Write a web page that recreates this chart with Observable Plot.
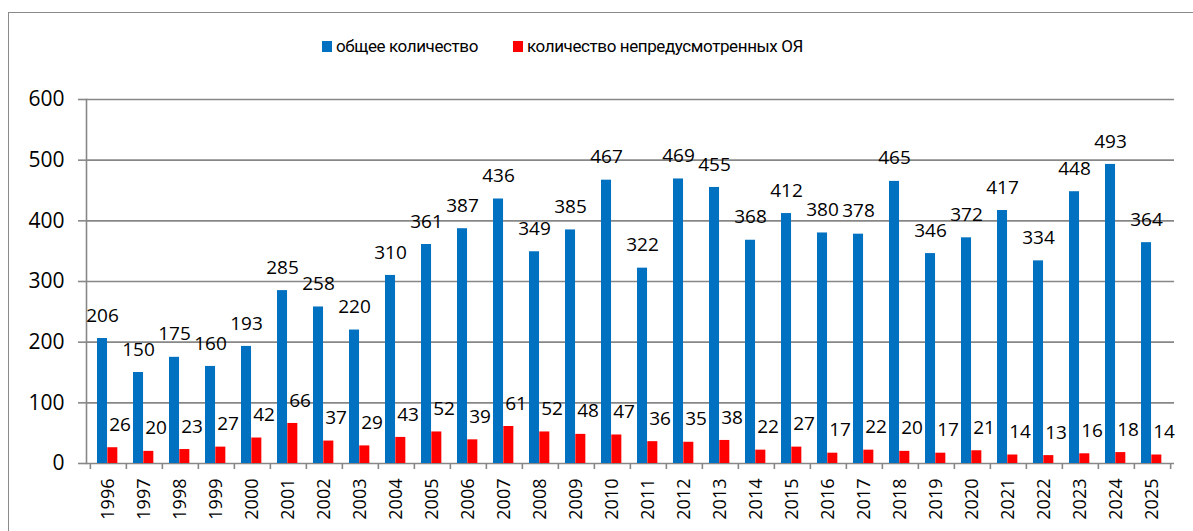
<!DOCTYPE html>
<html>
<head>
<meta charset="utf-8">
<script src="https://cdn.jsdelivr.net/npm/d3@7"></script>
<script src="https://cdn.jsdelivr.net/npm/@observablehq/plot@0.6"></script>
<style>
  html, body { margin: 0; padding: 0; background: #fff; overflow: hidden; }
  #wrap { position: relative; width: 1193px; height: 531px; font-family: "Open Sans", sans-serif; }
  #border { position: absolute; left: 8px; top: 12px; width: 1300px; height: 700px; border: 1.5px solid #8a8a8a; box-sizing: border-box; }
  #chart { position: absolute; left: 0; top: 0; }
  .lg { position: absolute; top: 36px; display: flex; align-items: center; font-family: Roboto, sans-serif; font-size: 17px; letter-spacing: -0.4px; color: #000; white-space: nowrap; }
  .sw { width: 10px; height: 11px; margin-right: 4px; }
</style>
</head>
<body>
<div id="wrap">
  <div id="border"></div>
  <div id="chart"></div>
  <div class="lg" id="lg1"></div>
  <div class="lg" id="lg2"></div>
</div>
<script>
const years = ["1996","1997","1998","1999","2000","2001","2002","2003","2004","2005","2006","2007","2008","2009","2010","2011","2012","2013","2014","2015","2016","2017","2018","2019","2020","2021","2022","2023","2024","2025"];
const totalCount = [206,150,175,160,193,285,258,220,310,361,387,436,349,385,467,322,469,455,368,412,380,378,465,346,372,417,334,448,493,364];
const unexpectedCount = [26,20,23,27,42,66,37,29,43,52,39,61,52,48,47,36,35,38,22,27,17,22,20,17,21,14,13,16,18,14];
const seriesNames = ["общее количество", "количество непредусмотренных ОЯ"];
const seriesColors = ["#0070C0", "#FF0000"];
const yTicks = [0, 100, 200, 300, 400, 500, 600];

const rows = years.map((y, i) => ({year: y, total: totalCount[i], unexp: unexpectedCount[i]}));

const W = 1193, H = 531, ml = 86, mr = 19, mt = 99, mb = 68;
const bw = (W - ml - mr) / years.length;
const gray = "#878787";
const barW = 10.3;
const off1 = 7, off2 = off1 + barW;

const chart = Plot.plot({
  width: W, height: H,
  marginLeft: ml, marginRight: mr, marginTop: mt, marginBottom: mb,
  style: {fontFamily: "'Open Sans', sans-serif", background: "transparent", color: "#000", overflow: "visible"},
  x: {domain: years, padding: 0},
  y: {domain: [0, 600]},
  marks: [
    Plot.ruleY(yTicks, {stroke: gray, strokeWidth: 1.6}),
    Plot.frame({anchor: "left", stroke: gray, strokeWidth: 1.6}),
    Plot.axisY({ticks: yTicks, tickSize: 8, tickPadding: 14, fontSize: 21, stroke: gray, strokeWidth: 1.6, fill: "#000", label: null}),
    Plot.axisX(years, {tickSize: 6, tickFormat: () => "", dx: -bw / 2, stroke: gray, strokeWidth: 1.6, label: null}),
    Plot.axisX([years[years.length - 1]], {tickSize: 6, tickFormat: () => "", dx: bw / 2, stroke: gray, strokeWidth: 1.6, label: null}),
    Plot.axisX(years, {tickSize: 0, tickPadding: 15, tickRotate: -90, fontSize: 18, fill: "#000", label: null}),
    Plot.barY(rows, {x: "year", y: "total", fill: seriesColors[0], insetLeft: off1, insetRight: bw - off1 - barW}),
    Plot.barY(rows, {x: "year", y: "unexp", fill: seriesColors[1], insetLeft: off2, insetRight: bw - off2 - barW}),
    Plot.text(rows, {x: "year", y: "total", text: d => String(d.total), dx: off1 + barW / 2 - bw / 2, dy: -23, fontSize: 19, fill: "#000", lineAnchor: "middle"}),
    Plot.text(rows, {x: "year", y: "unexp", text: d => String(d.unexp), dx: 11.5, dy: -23, fontSize: 19, fill: "#000", lineAnchor: "middle"})
  ]
});
document.getElementById("chart").appendChild(chart);

function legendItem(el, left, name, color) {
  el.style.left = left + "px";
  const sw = document.createElement("div");
  sw.className = "sw";
  sw.style.background = color;
  const t = document.createElement("span");
  t.textContent = name;
  el.appendChild(sw);
  el.appendChild(t);
}
legendItem(document.getElementById("lg1"), 322, seriesNames[0], seriesColors[0]);
legendItem(document.getElementById("lg2"), 513, seriesNames[1], seriesColors[1]);
</script>
</body>
</html>
